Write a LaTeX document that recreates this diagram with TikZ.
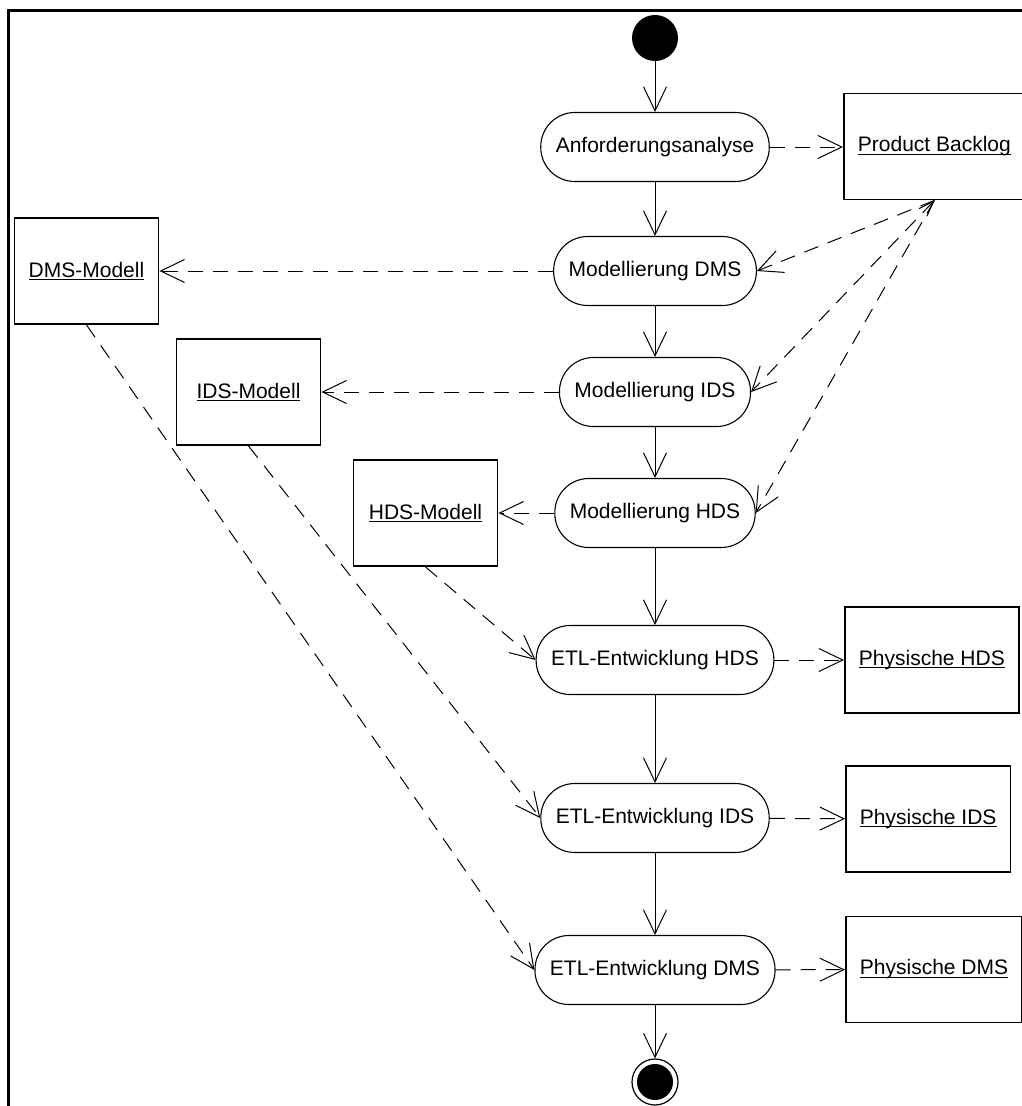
\documentclass[tikz,border=0pt]{standalone}
\usepackage{fontspec}
\setmainfont{Liberation Sans}
\usetikzlibrary{arrows.meta}
% underlined object name, the rule sitting just under the baseline
\newsavebox\objbox
\newcommand\objlabel[1]{\sbox\objbox{#1}\rlap{\rule[-3pt]{\wd\objbox}{1.3pt}}\usebox\objbox}
\begin{document}
\begin{tikzpicture}[x=1pt,y=-1pt,
  every node/.style={font=\fontsize{21pt}{25pt}\selectfont},
  activity/.style={draw, line width=1.1pt, rounded corners=34pt, minimum height=69pt, inner xsep=15pt, inner ysep=0pt},
  artifact/.style={draw, line width=1.9pt, minimum height=106pt, minimum width=144pt, inner xsep=14pt},
  openhead/.style={-{Straight Barb[length=24pt,width=23pt]}},
  flow/.style={line width=1pt, openhead},
  dep/.style={flow, dash pattern=on 15pt off 10pt},
]
\useasboundingbox (0,0) rectangle (1022,1106);
\clip (0,0) rectangle (1022,1106);

% frame
\draw[line width=2.5pt] (8.5,1106) -- (8.5,10.5) -- (1022,10.5);

% control flow
\node[circle, fill, inner sep=0pt, minimum size=46pt] (start) at (655,38) {};
\node[activity] (req)  at (655,147) {Anforderungsanalyse};
\node[activity] (mdms) at (655,271) {Modellierung DMS};
\node[activity] (mids) at (655,392) {Modellierung IDS};
\node[activity] (mhds) at (655,513) {Modellierung HDS};
\node[activity] (ehds) at (655,660) {ETL-Entwicklung HDS};
\node[activity] (eids) at (655,818) {ETL-Entwicklung IDS};
\node[activity] (edms) at (655,970) {ETL-Entwicklung DMS};
\node[circle, draw, line width=1.2pt, inner sep=0pt, minimum size=46pt] (stop) at (655,1082) {};
\fill (stop.center) circle (18pt);

% object nodes
\node[artifact, anchor=west] (pb)   at (843,146.5) {\objlabel{Product Backlog}};
\node[artifact] (dmsm) at (86.5,271)  {\objlabel{DMS-Modell}};
\node[artifact] (idsm) at (248.5,392) {\objlabel{IDS-Modell}};
\node[artifact] (hdsm) at (425.5,513) {\objlabel{HDS-Modell}};
\node[artifact, anchor=west] (phds) at (844,660)   {\objlabel{Physische HDS}};
\node[artifact, anchor=west] (pids) at (845,819)   {\objlabel{Physische IDS}};
\node[artifact, anchor=west] (pdms) at (845,969.5) {\objlabel{Physische DMS}};

% solid transitions
\draw[flow] (start) -- (req);
\draw[flow] (req) -- (mdms);
\draw[flow] (mdms) -- (mids);
\draw[flow] (mids) -- (mhds);
\draw[flow] (mhds) -- (ehds);
\draw[flow] (ehds) -- (eids);
\draw[flow] (eids) -- (edms);
\draw[flow] (edms) -- (stop);

% object flows
\draw[dep] (req.east) -- (pb.west |- req.east);
\draw[dep] (mdms) -- (dmsm);
\draw[dep] (mids) -- (idsm);
\draw[dep] (mhds) -- (hdsm);
\draw[dep] (pb.south) -- (mdms.east);
\draw[line width=1pt, dash pattern=on 15pt off 10pt,
  {Straight Barb[length=15pt,width=11pt]}-{Straight Barb[length=24pt,width=23pt]}]
  (pb.south) -- (mids.east);
\draw[dep] (pb.south) -- (mhds.east);
\draw[dep] (hdsm.south) -- (ehds.west);
\draw[dep] (idsm.south) -- (eids.west);
\draw[dep] (dmsm.south) -- (edms.west);
\draw[dep] (ehds) -- (phds);
\draw[dep] (eids) -- (pids);
\draw[dep] (edms) -- (pdms);
\end{tikzpicture}
\end{document}
